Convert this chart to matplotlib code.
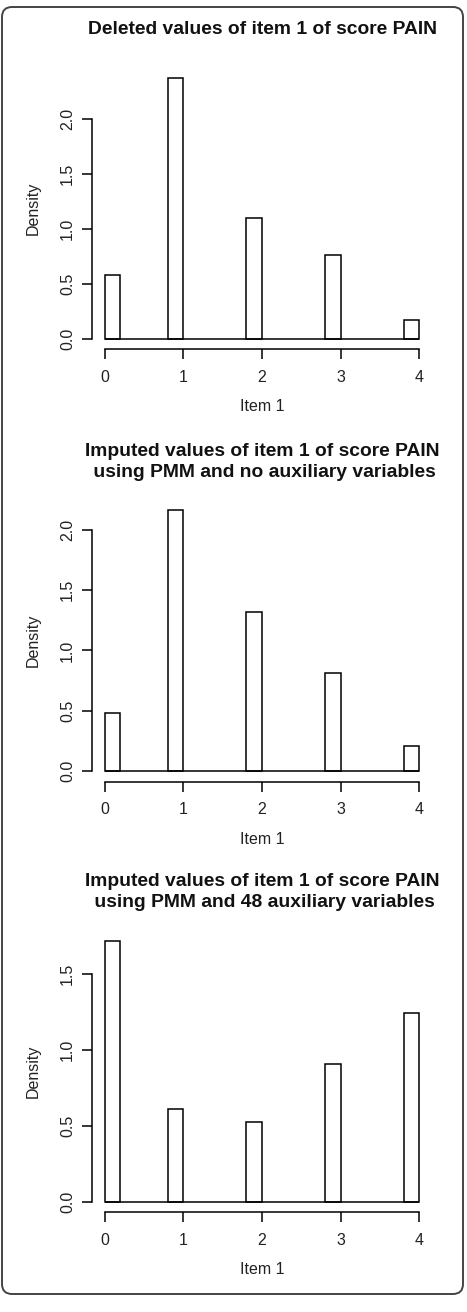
import numpy as np
import matplotlib.pyplot as plt
from matplotlib.patches import FancyBboxPatch

plt.rcParams["font.family"] = ["Liberation Sans", "DejaVu Sans"]

# Item 1 responses (0-4) and the histogram densities
item_values = [0, 1, 2, 3, 4]
deleted_density = [0.58, 2.37, 1.10, 0.76, 0.17]
pmm_no_aux_density = [0.48, 2.16, 1.32, 0.815, 0.21]
pmm_48_aux_density = [1.715, 0.609, 0.528, 0.909, 1.242]

titles = [
    "Deleted values of item 1 of score PAIN",
    "Imputed values of item 1 of score PAIN\n using PMM and no auxiliary variables",
    "Imputed values of item 1 of score PAIN\n using PMM and 48 auxiliary variables",
]
y_ticks = [
    [0.0, 0.5, 1.0, 1.5, 2.0],
    [0.0, 0.5, 1.0, 1.5, 2.0],
    [0.0, 0.5, 1.0, 1.5],
]
bin_width = 0.2

W, H = 467, 1312
fig = plt.figure(figsize=(W / 100, H / 100), dpi=100)

# rounded frame around the whole figure
frame = FancyBboxPatch((0.02, (H - 1294) / 100), 4.61, (1294 - 7) / 100,
                       boxstyle="round,pad=0,rounding_size=0.1",
                       transform=fig.dpi_scale_trans, fill=False,
                       edgecolor="#444444", linewidth=1.4)
fig.patches.append(frame)

# axes placement in pixels: left, right, bottom of each panel
ax_left, ax_right = 92, 432
ax_h = 282
bottoms = [349.4, 781.8, 1212.4]

lw = 1.1
for dens, title, yt, bot in zip([deleted_density, pmm_no_aux_density, pmm_48_aux_density],
                               titles, y_ticks, bottoms):
    ax = fig.add_axes([ax_left / W, (H - bot) / H, (ax_right - ax_left) / W, ax_h / H])
    vals = np.array(item_values, dtype=float)
    left = np.where(vals == 0, 0.0, vals - bin_width)
    ax.bar(left, dens, width=bin_width, align="edge", fill=False,
           edgecolor="black", linewidth=lw)
    ax.plot([vals.min(), vals.max()], [0, 0], color="black", linewidth=lw,
            solid_capstyle="butt")

    ymax = max(dens)
    ax.set_xlim(-0.04 * 4, 4 + 0.04 * 4)
    ax.set_ylim(-0.04 * ymax, 1.04 * ymax)

    for s in ["top", "right"]:
        ax.spines[s].set_visible(False)
    ax.spines["left"].set_bounds(yt[0], yt[-1])
    ax.spines["bottom"].set_bounds(item_values[0], item_values[-1])
    ax.spines["left"].set_linewidth(lw)
    ax.spines["bottom"].set_linewidth(lw)

    ax.set_xticks(item_values)
    ax.set_xticklabels([str(v) for v in item_values])
    ax.set_yticks(yt)
    ax.set_yticklabels([f"{v:.1f}" for v in yt], rotation=90, va="center")
    ax.tick_params(axis="both", length=7.2, width=lw, labelsize=11.5,
                   colors="black", labelcolor="#222222")
    ax.tick_params(axis="x", pad=7.5)
    ax.tick_params(axis="y", pad=5)

    ax.set_xlabel("Item 1", fontsize=11.5, color="#222222")
    ax.xaxis.set_label_coords(0.5, -57.6 / ax_h)
    ax.set_ylabel("Density", fontsize=11.5, color="#222222")
    ax.yaxis.set_label_coords(-(ax_left - 33) / (ax_right - ax_left), 0.5)
    ax.xaxis.label.set_va("center")
    ax.yaxis.label.set_va("center")

    ax.text(0.5, 1 + 38 / ax_h, title, transform=ax.transAxes, ha="center",
            va="center", fontsize=13.9, fontweight="bold", linespacing=1.32,
            color="#111111")

fig.savefig("out.png", dpi=100)
